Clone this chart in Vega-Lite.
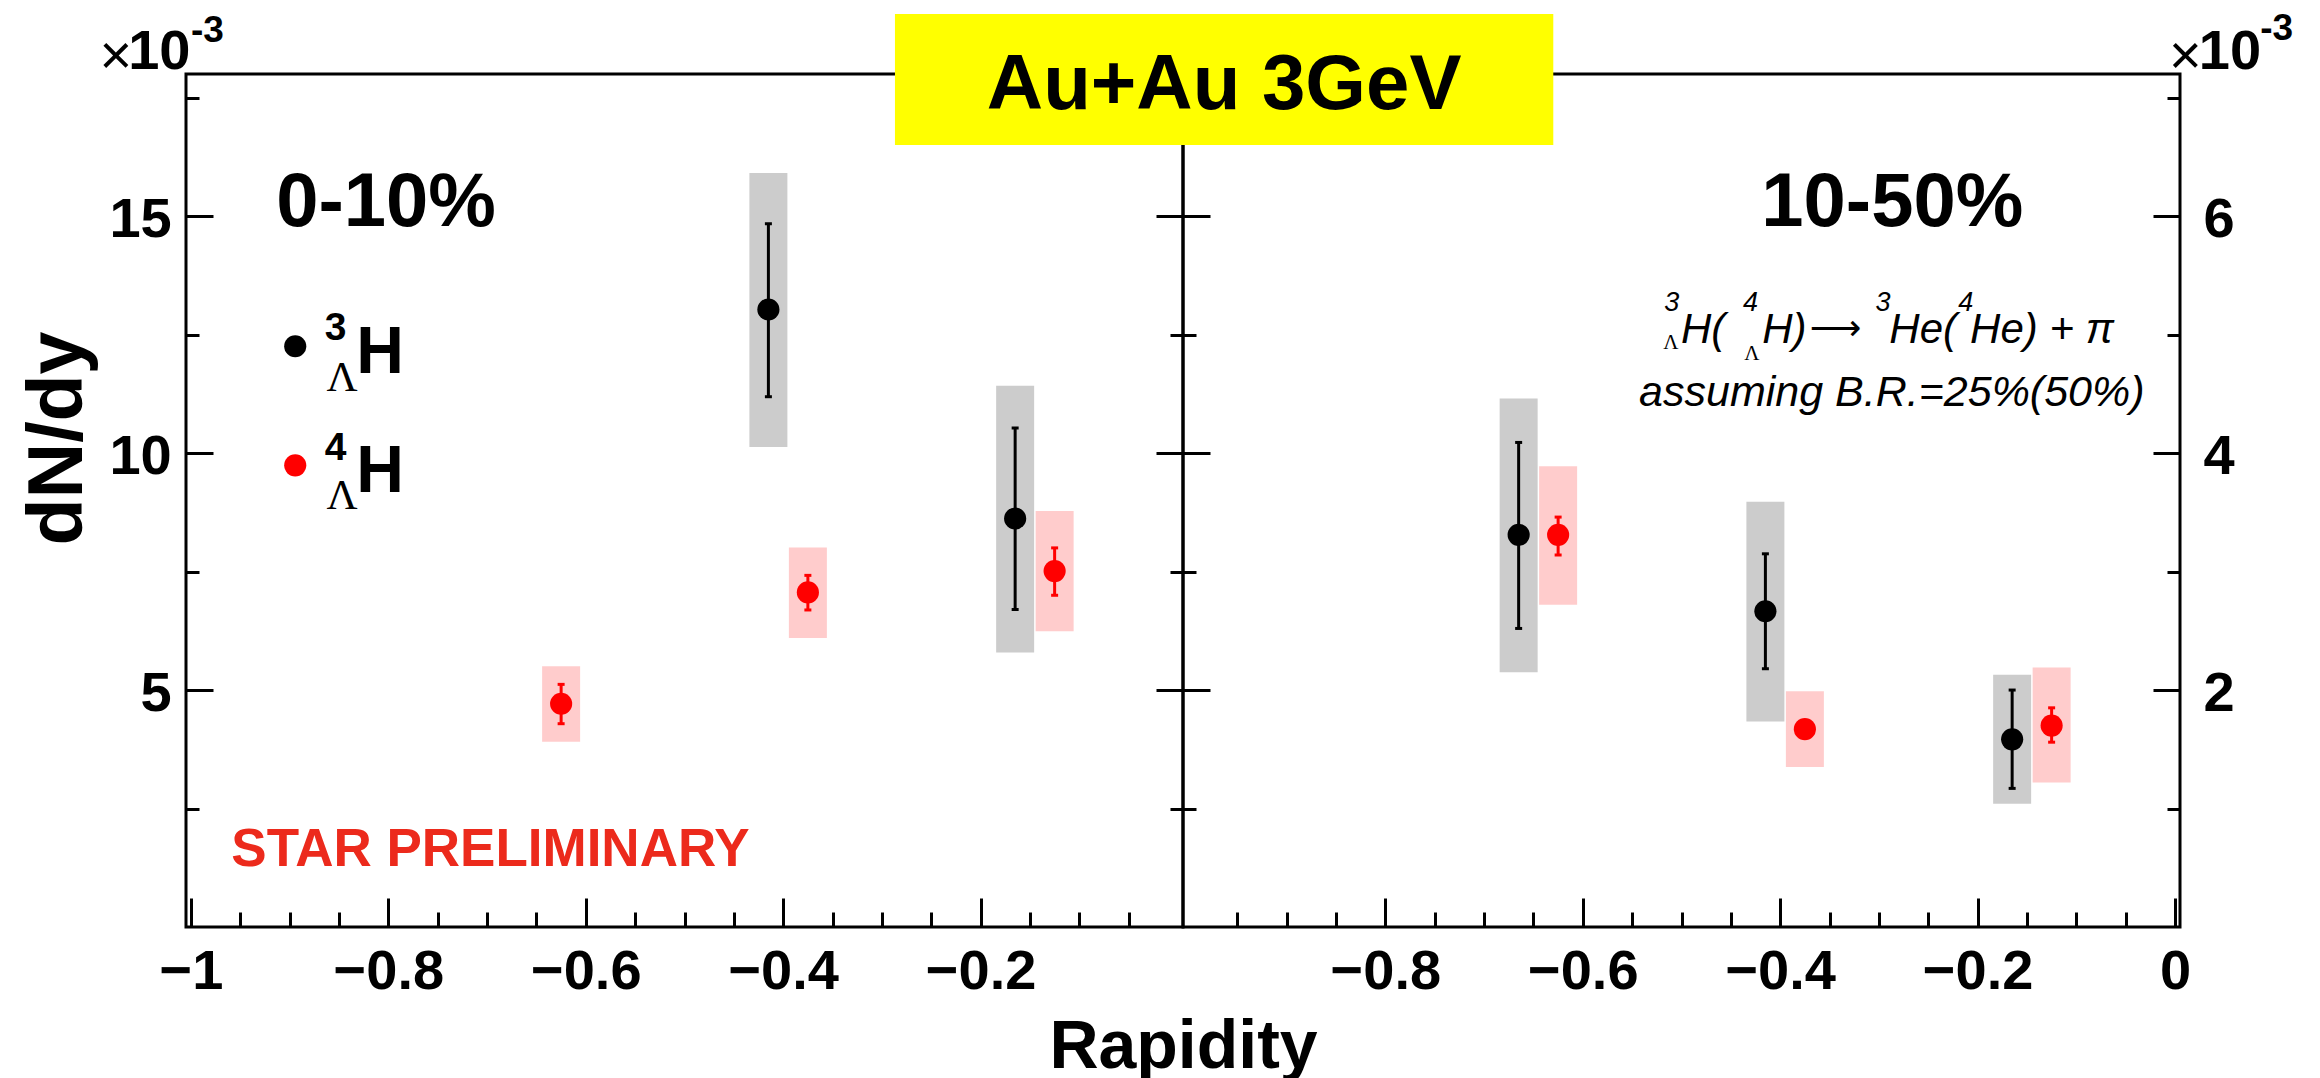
{
  "$schema": "https://vega.github.io/schema/vega-lite/v6.json",
  "padding": {"left": 17, "top": 8, "right": 10, "bottom": 10},
  "background": "white",
  "spacing": 0,
  "bounds": "flush",
  "config": {
    "view": {"stroke": "black", "strokeWidth": 3},
    "font": "Liberation Sans",
    "axis": {
      "domain": false, "grid": false, "ticks": true, "tickColor": "black", "tickWidth": 3,
      "labelFont": "Liberation Sans", "labelFontWeight": "bold", "labelFontSize": 56, "labelColor": "black",
      "labelFlush": false, "labelOverlap": false, "labelBound": false,
      "titleFont": "Liberation Sans", "titleColor": "black", "titleFontWeight": "bold"
    }
  },
  "resolve": {"scale": {"x": "independent", "y": "independent"}},
  "datasets": {
    "left": [
      {"sp": "3LH", "rap": -0.415, "v": 13.03, "slo": 11.19, "shi": 14.84, "ylo": 10.13, "yhi": 15.91},
      {"sp": "3LH", "rap": -0.165, "v": 8.62, "slo": 6.70, "shi": 10.53, "ylo": 5.79, "yhi": 11.42},
      {"sp": "4LH", "rap": -0.625, "v": 4.71, "slo": 4.29, "shi": 5.12, "ylo": 3.91, "yhi": 5.50},
      {"sp": "4LH", "rap": -0.375, "v": 7.06, "slo": 6.69, "shi": 7.42, "ylo": 6.10, "yhi": 8.01},
      {"sp": "4LH", "rap": -0.125, "v": 7.51, "slo": 7.00, "shi": 8.00, "ylo": 6.24, "yhi": 8.78}
    ],
    "right": [
      {"sp": "3LH", "rap": -0.665, "v": 3.31, "slo": 2.52, "shi": 4.09, "ylo": 2.15, "yhi": 4.46},
      {"sp": "3LH", "rap": -0.415, "v": 2.665, "slo": 2.18, "shi": 3.15, "ylo": 1.735, "yhi": 3.59},
      {"sp": "3LH", "rap": -0.165, "v": 1.584, "slo": 1.17, "shi": 2.00, "ylo": 1.04, "yhi": 2.13},
      {"sp": "4LH", "rap": -0.625, "v": 3.31, "slo": 3.14, "shi": 3.46, "ylo": 2.72, "yhi": 3.89},
      {"sp": "4LH", "rap": -0.375, "v": 1.67, "slo": 1.67, "shi": 1.67, "ylo": 1.35, "yhi": 1.99},
      {"sp": "4LH", "rap": -0.125, "v": 1.70, "slo": 1.56, "shi": 1.85, "ylo": 1.22, "yhi": 2.19}
    ]
  },
  "hconcat": [
    {
      "width": 997, "height": 853,
      "resolve": {"axis": {"x": "independent", "y": "independent"}},
      "layer": [
        {
          "data": {"name": "left"},
          "mark": {"type": "bar", "size": 38, "opacity": 1},
          "encoding": {
            "x": {"field": "rap", "type": "quantitative", "scale": {"domain": [-1, 0], "nice": false, "zero": false},
              "axis": {"orient": "bottom", "values": [-1, -0.8, -0.6, -0.4, -0.2], "format": ".1~f", "tickSize": -29, "labelPadding": 46.7,
                "title": "Rapidity", "titleX": 997, "titleY": 140, "titleAlign": "center", "titleBaseline": "alphabetic", "titleFontSize": 68}},
            "y": {"field": "ylo", "type": "quantitative", "scale": {"domain": [0, 18], "nice": false, "zero": false},
              "axis": {"orient": "left", "values": [5, 10, 15], "format": "d", "tickSize": -27, "labelPadding": 41.8, "labelOffset": 3,
                "title": "dN/dy", "titleX": -105, "titleY": 364, "titleAngle": 270, "titleAlign": "center", "titleBaseline": "alphabetic", "titleFontSize": 77}},
            "y2": {"field": "yhi"},
            "fill": {"field": "sp", "type": "nominal", "scale": {"domain": ["3LH", "4LH"], "range": ["#cccccc", "#ffcccc"]}, "legend": null}
          }
        },
        {
          "data": {"name": "left"},
          "mark": {"type": "rule", "strokeWidth": 3},
          "encoding": {
            "x": {"field": "rap", "type": "quantitative", "scale": {"domain": [-1, 0], "nice": false, "zero": false},
              "axis": {"orient": "bottom", "values": [-0.95, -0.9, -0.85, -0.75, -0.7, -0.65, -0.55, -0.5, -0.45, -0.35, -0.3, -0.25, -0.15, -0.1, -0.05], "tickSize": -15, "labels": false, "title": null}},
            "y": {"field": "slo", "type": "quantitative", "scale": {"domain": [0, 18], "nice": false, "zero": false},
              "axis": {"orient": "left", "values": [2.5, 7.5, 12.5, 17.5], "tickSize": -13, "labels": false, "title": null}},
            "y2": {"field": "shi"},
            "color": {"field": "sp", "type": "nominal", "scale": {"domain": ["3LH", "4LH"], "range": ["#000000", "#ff0000"]}, "legend": null}
          }
        },
        {
          "data": {"name": "left"},
          "mark": {"type": "tick", "orient": "horizontal", "size": 7, "thickness": 3, "opacity": 1},
          "encoding": {
            "x": {"field": "rap", "type": "quantitative", "scale": {"domain": [-1, 0], "nice": false, "zero": false}, "axis": null},
            "y": {"field": "slo", "type": "quantitative", "scale": {"domain": [0, 18], "nice": false, "zero": false},
              "axis": {"orient": "right", "values": [5, 10, 15], "tickSize": -27, "labels": false, "title": null}},
            "color": {"field": "sp", "type": "nominal", "scale": {"domain": ["3LH", "4LH"], "range": ["#000000", "#ff0000"]}, "legend": null}
          }
        },
        {
          "data": {"name": "left"},
          "mark": {"type": "tick", "orient": "horizontal", "size": 7, "thickness": 3, "opacity": 1},
          "encoding": {
            "x": {"field": "rap", "type": "quantitative", "scale": {"domain": [-1, 0], "nice": false, "zero": false}, "axis": null},
            "y": {"field": "shi", "type": "quantitative", "scale": {"domain": [0, 18], "nice": false, "zero": false},
              "axis": {"orient": "right", "values": [2.5, 7.5, 12.5, 17.5], "tickSize": -13, "labels": false, "title": null}},
            "color": {"field": "sp", "type": "nominal", "scale": {"domain": ["3LH", "4LH"], "range": ["#000000", "#ff0000"]}, "legend": null}
          }
        },
        {
          "data": {"name": "left"},
          "mark": {"type": "circle", "size": 490, "opacity": 1},
          "encoding": {
            "x": {"field": "rap", "type": "quantitative", "scale": {"domain": [-1, 0], "nice": false, "zero": false}, "axis": null},
            "y": {"field": "v", "type": "quantitative", "scale": {"domain": [0, 18], "nice": false, "zero": false}, "axis": null},
            "color": {"field": "sp", "type": "nominal", "scale": {"domain": ["3LH", "4LH"], "range": ["#000000", "#ff0000"]}, "legend": null}
          }
        },
        {
          "data": {"values": [{"t": "×", "x": -1.0762, "y": 18.006}]},
          "mark": {"type": "text", "font": "Liberation Sans", "fontSize": 56, "align": "center", "baseline": "alphabetic", "color": "black"},
          "encoding": {
            "x": {"field": "x", "type": "quantitative", "scale": {"domain": [-1, 0], "nice": false, "zero": false}, "axis": null},
            "y": {"field": "y", "type": "quantitative", "scale": {"domain": [0, 18], "nice": false, "zero": false}, "axis": null},
            "text": {"field": "t"}
          }
        },
        {
          "data": {"values": [{"t": "10", "x": -1.0005, "y": 18.111}]},
          "mark": {"type": "text", "font": "Liberation Sans", "fontWeight": "bold", "fontSize": 56, "align": "right", "baseline": "alphabetic", "color": "black"},
          "encoding": {
            "x": {"field": "x", "type": "quantitative", "scale": {"domain": [-1, 0], "nice": false, "zero": false}, "axis": null},
            "y": {"field": "y", "type": "quantitative", "scale": {"domain": [0, 18], "nice": false, "zero": false}, "axis": null},
            "text": {"field": "t"}
          }
        },
        {
          "data": {"values": [{"t": "-3", "x": -1.0, "y": 18.675}]},
          "mark": {"type": "text", "font": "Liberation Sans", "fontWeight": "bold", "fontSize": 37, "align": "left", "baseline": "alphabetic", "color": "black"},
          "encoding": {
            "x": {"field": "x", "type": "quantitative", "scale": {"domain": [-1, 0], "nice": false, "zero": false}, "axis": null},
            "y": {"field": "y", "type": "quantitative", "scale": {"domain": [0, 18], "nice": false, "zero": false}, "axis": null},
            "text": {"field": "t"}
          }
        },
        {
          "data": {"values": [{"t": "0-10%", "x": -0.8024, "y": 14.79}]},
          "mark": {"type": "text", "font": "Liberation Sans", "fontWeight": "bold", "fontSize": 76, "align": "center", "baseline": "alphabetic", "color": "black"},
          "encoding": {
            "x": {"field": "x", "type": "quantitative", "scale": {"domain": [-1, 0], "nice": false, "zero": false}, "axis": null},
            "y": {"field": "y", "type": "quantitative", "scale": {"domain": [0, 18], "nice": false, "zero": false}, "axis": null},
            "text": {"field": "t"}
          }
        },
        {
          "data": {"values": [{"sp": "3LH", "x": -0.8944, "y": 12.254}, {"sp": "4LH", "x": -0.8944, "y": 9.742}]},
          "mark": {"type": "circle", "size": 490, "opacity": 1},
          "encoding": {
            "x": {"field": "x", "type": "quantitative", "scale": {"domain": [-1, 0], "nice": false, "zero": false}, "axis": null},
            "y": {"field": "y", "type": "quantitative", "scale": {"domain": [0, 18], "nice": false, "zero": false}, "axis": null},
            "color": {"field": "sp", "type": "nominal", "scale": {"domain": ["3LH", "4LH"], "range": ["#000000", "#ff0000"]}, "legend": null}
          }
        },
        {
          "data": {"values": [{"t": "H", "x": -0.8325, "y": 11.69}, {"t": "H", "x": -0.8325, "y": 9.179}]},
          "mark": {"type": "text", "font": "Liberation Sans", "fontWeight": "bold", "fontSize": 66, "align": "left", "baseline": "alphabetic", "color": "black"},
          "encoding": {
            "x": {"field": "x", "type": "quantitative", "scale": {"domain": [-1, 0], "nice": false, "zero": false}, "axis": null},
            "y": {"field": "y", "type": "quantitative", "scale": {"domain": [0, 18], "nice": false, "zero": false}, "axis": null},
            "text": {"field": "t"}
          }
        },
        {
          "data": {"values": [{"t": "3", "x": -0.8646, "y": 12.38}, {"t": "4", "x": -0.8646, "y": 9.848}]},
          "mark": {"type": "text", "font": "Liberation Sans", "fontWeight": "bold", "fontSize": 39, "align": "left", "baseline": "alphabetic", "color": "black"},
          "encoding": {
            "x": {"field": "x", "type": "quantitative", "scale": {"domain": [-1, 0], "nice": false, "zero": false}, "axis": null},
            "y": {"field": "y", "type": "quantitative", "scale": {"domain": [0, 18], "nice": false, "zero": false}, "axis": null},
            "text": {"field": "t"}
          }
        },
        {
          "data": {"values": [{"t": "Λ", "x": -0.8626, "y": 11.31}, {"t": "Λ", "x": -0.8626, "y": 8.827}]},
          "mark": {"type": "text", "font": "Liberation Serif", "fontSize": 43, "align": "left", "baseline": "alphabetic", "color": "black"},
          "encoding": {
            "x": {"field": "x", "type": "quantitative", "scale": {"domain": [-1, 0], "nice": false, "zero": false}, "axis": null},
            "y": {"field": "y", "type": "quantitative", "scale": {"domain": [0, 18], "nice": false, "zero": false}, "axis": null},
            "text": {"field": "t"}
          }
        },
        {
          "data": {"values": [{"t": "STAR PRELIMINARY", "x": -0.6966, "y": 1.283}]},
          "mark": {"type": "text", "font": "Liberation Sans", "fontWeight": "bold", "fontSize": 53, "align": "center", "baseline": "alphabetic", "color": "#ec2a1c"},
          "encoding": {
            "x": {"field": "x", "type": "quantitative", "scale": {"domain": [-1, 0], "nice": false, "zero": false}, "axis": null},
            "y": {"field": "y", "type": "quantitative", "scale": {"domain": [0, 18], "nice": false, "zero": false}, "axis": null},
            "text": {"field": "t"}
          }
        }
      ]
    },
    {
      "width": 997, "height": 853,
      "resolve": {"axis": {"x": "independent", "y": "independent"}},
      "layer": [
        {
          "data": {"name": "right"},
          "mark": {"type": "bar", "size": 38, "opacity": 1},
          "encoding": {
            "x": {"field": "rap", "type": "quantitative", "scale": {"domain": [-1, 0], "nice": false, "zero": false},
              "axis": {"orient": "bottom", "values": [-0.8, -0.6, -0.4, -0.2, 0], "format": ".1~f", "tickSize": -29, "labelPadding": 46.7, "title": null}},
            "y": {"field": "ylo", "type": "quantitative", "scale": {"domain": [0, 7.2], "nice": false, "zero": false},
              "axis": {"orient": "left", "values": [2, 4, 6], "tickSize": -27, "labels": false, "title": null}},
            "y2": {"field": "yhi"},
            "fill": {"field": "sp", "type": "nominal", "scale": {"domain": ["3LH", "4LH"], "range": ["#cccccc", "#ffcccc"]}, "legend": null}
          }
        },
        {
          "data": {"name": "right"},
          "mark": {"type": "rule", "strokeWidth": 3},
          "encoding": {
            "x": {"field": "rap", "type": "quantitative", "scale": {"domain": [-1, 0], "nice": false, "zero": false},
              "axis": {"orient": "bottom", "values": [-0.95, -0.9, -0.85, -0.75, -0.7, -0.65, -0.55, -0.5, -0.45, -0.35, -0.3, -0.25, -0.15, -0.1, -0.05], "tickSize": -15, "labels": false, "title": null}},
            "y": {"field": "slo", "type": "quantitative", "scale": {"domain": [0, 7.2], "nice": false, "zero": false},
              "axis": {"orient": "left", "values": [1, 3, 5, 7], "tickSize": -13, "labels": false, "title": null}},
            "y2": {"field": "shi"},
            "color": {"field": "sp", "type": "nominal", "scale": {"domain": ["3LH", "4LH"], "range": ["#000000", "#ff0000"]}, "legend": null}
          }
        },
        {
          "data": {"name": "right"},
          "mark": {"type": "tick", "orient": "horizontal", "size": 7, "thickness": 3, "opacity": 1},
          "encoding": {
            "x": {"field": "rap", "type": "quantitative", "scale": {"domain": [-1, 0], "nice": false, "zero": false}, "axis": null},
            "y": {"field": "slo", "type": "quantitative", "scale": {"domain": [0, 7.2], "nice": false, "zero": false},
              "axis": {"orient": "right", "values": [2, 4, 6], "format": "d", "tickSize": -27, "labelPadding": 50, "labelOffset": 3, "title": null}},
            "color": {"field": "sp", "type": "nominal", "scale": {"domain": ["3LH", "4LH"], "range": ["#000000", "#ff0000"]}, "legend": null}
          }
        },
        {
          "data": {"name": "right"},
          "mark": {"type": "tick", "orient": "horizontal", "size": 7, "thickness": 3, "opacity": 1},
          "encoding": {
            "x": {"field": "rap", "type": "quantitative", "scale": {"domain": [-1, 0], "nice": false, "zero": false}, "axis": null},
            "y": {"field": "shi", "type": "quantitative", "scale": {"domain": [0, 7.2], "nice": false, "zero": false},
              "axis": {"orient": "right", "values": [1, 3, 5, 7], "tickSize": -13, "labels": false, "title": null}},
            "color": {"field": "sp", "type": "nominal", "scale": {"domain": ["3LH", "4LH"], "range": ["#000000", "#ff0000"]}, "legend": null}
          }
        },
        {
          "data": {"name": "right"},
          "mark": {"type": "circle", "size": 490, "opacity": 1},
          "encoding": {
            "x": {"field": "rap", "type": "quantitative", "scale": {"domain": [-1, 0], "nice": false, "zero": false}, "axis": null},
            "y": {"field": "v", "type": "quantitative", "scale": {"domain": [0, 7.2], "nice": false, "zero": false}, "axis": null},
            "color": {"field": "sp", "type": "nominal", "scale": {"domain": ["3LH", "4LH"], "range": ["#000000", "#ff0000"]}, "legend": null}
          }
        },
        {
          "data": {"values": [{"x1": -1.2969, "x2": -0.6299, "y1": 6.601, "y2": 7.706}]},
          "mark": {"type": "rect", "color": "#ffff00", "opacity": 1},
          "encoding": {
            "x": {"field": "x1", "type": "quantitative", "scale": {"domain": [-1, 0], "nice": false, "zero": false}, "axis": null},
            "x2": {"field": "x2"},
            "y": {"field": "y1", "type": "quantitative", "scale": {"domain": [0, 7.2], "nice": false, "zero": false}, "axis": null},
            "y2": {"field": "y2"}
          }
        },
        {
          "data": {"values": [{"t": "Au+Au 3GeV", "x": -0.9634, "y": 6.905}]},
          "mark": {"type": "text", "font": "Liberation Sans", "fontWeight": "bold", "fontSize": 78, "align": "center", "baseline": "alphabetic", "color": "black"},
          "encoding": {
            "x": {"field": "x", "type": "quantitative", "scale": {"domain": [-1, 0], "nice": false, "zero": false}, "axis": null},
            "y": {"field": "y", "type": "quantitative", "scale": {"domain": [0, 7.2], "nice": false, "zero": false}, "axis": null},
            "text": {"field": "t"}
          }
        },
        {
          "data": {"values": [{"t": "10-50%", "x": -0.2864, "y": 5.917}]},
          "mark": {"type": "text", "font": "Liberation Sans", "fontWeight": "bold", "fontSize": 76, "align": "center", "baseline": "alphabetic", "color": "black"},
          "encoding": {
            "x": {"field": "x", "type": "quantitative", "scale": {"domain": [-1, 0], "nice": false, "zero": false}, "axis": null},
            "y": {"field": "y", "type": "quantitative", "scale": {"domain": [0, 7.2], "nice": false, "zero": false}, "axis": null},
            "text": {"field": "t"}
          }
        },
        {
          "data": {"values": [{"t": "×", "x": 0.0105, "y": 7.2027}]},
          "mark": {"type": "text", "font": "Liberation Sans", "fontSize": 56, "align": "center", "baseline": "alphabetic", "color": "black"},
          "encoding": {
            "x": {"field": "x", "type": "quantitative", "scale": {"domain": [-1, 0], "nice": false, "zero": false}, "axis": null},
            "y": {"field": "y", "type": "quantitative", "scale": {"domain": [0, 7.2], "nice": false, "zero": false}, "axis": null},
            "text": {"field": "t"}
          }
        },
        {
          "data": {"values": [{"t": "10", "x": 0.0873, "y": 7.2448}]},
          "mark": {"type": "text", "font": "Liberation Sans", "fontWeight": "bold", "fontSize": 56, "align": "right", "baseline": "alphabetic", "color": "black"},
          "encoding": {
            "x": {"field": "x", "type": "quantitative", "scale": {"domain": [-1, 0], "nice": false, "zero": false}, "axis": null},
            "y": {"field": "y", "type": "quantitative", "scale": {"domain": [0, 7.2], "nice": false, "zero": false}, "axis": null},
            "text": {"field": "t"}
          }
        },
        {
          "data": {"values": [{"t": "-3", "x": 0.0863, "y": 7.4846}]},
          "mark": {"type": "text", "font": "Liberation Sans", "fontWeight": "bold", "fontSize": 37, "align": "left", "baseline": "alphabetic", "color": "black"},
          "encoding": {
            "x": {"field": "x", "type": "quantitative", "scale": {"domain": [-1, 0], "nice": false, "zero": false}, "axis": null},
            "y": {"field": "y", "type": "quantitative", "scale": {"domain": [0, 7.2], "nice": false, "zero": false}, "axis": null},
            "text": {"field": "t"}
          }
        },
        {
          "data": {"values": [{"t": "H(", "x": -0.5005, "y": 4.926}, {"t": "H)", "x": -0.4183, "y": 4.926}, {"t": "He(", "x": -0.2894, "y": 4.926}, {"t": "He) + π", "x": -0.2076, "y": 4.926}]},
          "mark": {"type": "text", "font": "Liberation Sans", "fontStyle": "italic", "fontSize": 42, "align": "left", "baseline": "alphabetic", "color": "black"},
          "encoding": {
            "x": {"field": "x", "type": "quantitative", "scale": {"domain": [-1, 0], "nice": false, "zero": false}, "axis": null},
            "y": {"field": "y", "type": "quantitative", "scale": {"domain": [0, 7.2], "nice": false, "zero": false}, "axis": null},
            "text": {"field": "t"}
          }
        },
        {
          "data": {"values": [{"t": "3", "x": -0.5176, "y": 5.197}, {"t": "4", "x": -0.4378, "y": 5.197}, {"t": "3", "x": -0.3034, "y": 5.197}, {"t": "4", "x": -0.2195, "y": 5.197}]},
          "mark": {"type": "text", "font": "Liberation Sans", "fontStyle": "italic", "fontSize": 27, "align": "left", "baseline": "alphabetic", "color": "black"},
          "encoding": {
            "x": {"field": "x", "type": "quantitative", "scale": {"domain": [-1, 0], "nice": false, "zero": false}, "axis": null},
            "y": {"field": "y", "type": "quantitative", "scale": {"domain": [0, 7.2], "nice": false, "zero": false}, "axis": null},
            "text": {"field": "t"}
          }
        },
        {
          "data": {"values": [{"t": "Λ", "x": -0.5186, "y": 4.88}, {"t": "Λ", "x": -0.4363, "y": 4.79}]},
          "mark": {"type": "text", "font": "Liberation Serif", "fontSize": 21, "align": "left", "baseline": "alphabetic", "color": "black"},
          "encoding": {
            "x": {"field": "x", "type": "quantitative", "scale": {"domain": [-1, 0], "nice": false, "zero": false}, "axis": null},
            "y": {"field": "y", "type": "quantitative", "scale": {"domain": [0, 7.2], "nice": false, "zero": false}, "axis": null},
            "text": {"field": "t"}
          }
        },
        {
          "data": {"values": [{"t": "⟶", "x": -0.3701, "y": 5.048}]},
          "mark": {"type": "text", "font": "DejaVu Sans", "fontSize": 36, "align": "left", "baseline": "middle", "color": "black"},
          "encoding": {
            "x": {"field": "x", "type": "quantitative", "scale": {"domain": [-1, 0], "nice": false, "zero": false}, "axis": null},
            "y": {"field": "y", "type": "quantitative", "scale": {"domain": [0, 7.2], "nice": false, "zero": false}, "axis": null},
            "text": {"field": "t"}
          }
        },
        {
          "data": {"values": [{"t": "assuming B.R.=25%(50%)", "x": -0.2869, "y": 4.398}]},
          "mark": {"type": "text", "font": "Liberation Sans", "fontStyle": "italic", "fontSize": 43, "align": "center", "baseline": "alphabetic", "color": "black"},
          "encoding": {
            "x": {"field": "x", "type": "quantitative", "scale": {"domain": [-1, 0], "nice": false, "zero": false}, "axis": null},
            "y": {"field": "y", "type": "quantitative", "scale": {"domain": [0, 7.2], "nice": false, "zero": false}, "axis": null},
            "text": {"field": "t"}
          }
        }
      ]
    }
  ]
}
